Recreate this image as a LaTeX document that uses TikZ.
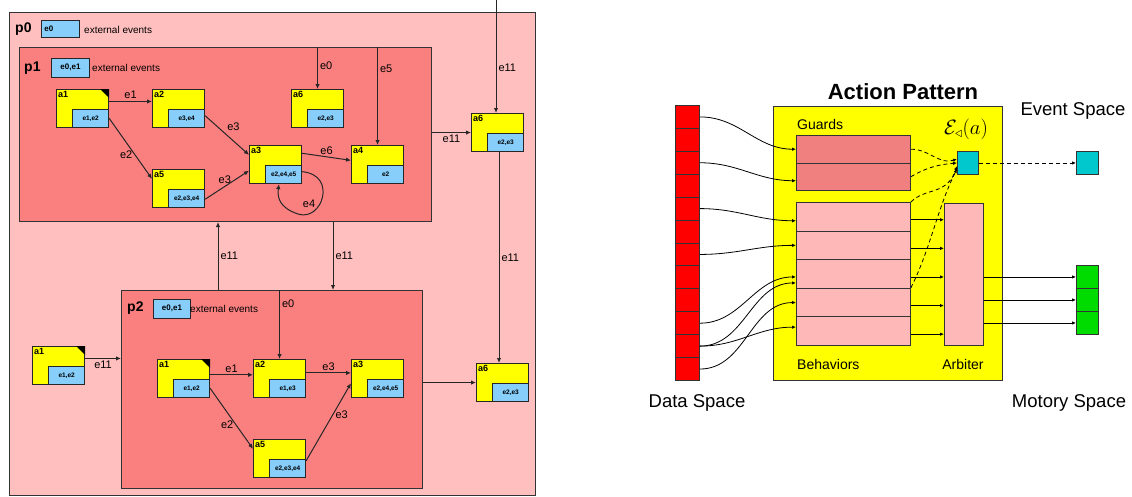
\documentclass[tikz,border=0pt]{standalone}
\usepackage{fontspec}
\setmainfont{Liberation Sans}
\usetikzlibrary{arrows.meta,positioning}

\definecolor{pzero}{RGB}{255,191,191}
\definecolor{pone}{RGB}{250,128,128}
\definecolor{actyellow}{RGB}{255,255,0}
\definecolor{evblue}{RGB}{135,206,250}
\definecolor{behpink}{RGB}{255,184,184}
\definecolor{guardred}{RGB}{240,128,128}
\definecolor{evcyan}{RGB}{0,200,205}
\definecolor{motgreen}{RGB}{0,220,0}
\definecolor{datared}{RGB}{255,0,0}

\tikzset{
  procbox/.style={draw=black!80, line width=1pt, anchor=north west, inner sep=0pt},
  actbox/.style={draw=black!85, line width=1.1pt, fill=actyellow, minimum width=52pt,
    minimum height=38pt, inner sep=0pt, anchor=north west},
  evbox/.style={draw=black!85, line width=0.9pt, fill=evblue, minimum width=36pt,
    minimum height=18pt, inner sep=0pt, font=\bfseries\fontsize{6.5}{7}\selectfont},
  actname/.style={font=\bfseries\fontsize{9}{10}\selectfont, inner sep=2pt},
  pname/.style={font=\bfseries\fontsize{14}{15}\selectfont, anchor=west, inner sep=0pt},
  extlab/.style={font=\fontsize{10}{11}\selectfont, anchor=west, inner sep=0pt},
  lab/.style={font=\fontsize{11}{12}\selectfont, inner sep=2pt},
  ev/.style={-{Latex[length=5pt,width=4.5pt]}, line width=1pt, draw=black!85},
  wire/.style={-{Latex[length=4pt,width=3.5pt]}, line width=0.8pt},
  dashwire/.style={wire, dashed, dash pattern=on 4pt off 3pt},
  bigtext/.style={font=\fontsize{18.5}{20}\selectfont, inner sep=0pt},
  midtext/.style={font=\fontsize{14}{15}\selectfont, inner sep=0pt},
  cell/.style={draw=black!80, line width=0.9pt, anchor=north west, inner sep=0pt}
}

% action node: name, top-left corner, action name, events
\newcommand{\actnode}[4]{%
  \node[actbox] (#1) at (#2) {};
  \node[evbox, anchor=south east] (#1e) at (#1.south east) {#4};
  \node[actname, anchor=north west] at (#1.north west) {#3};
}
\newcommand{\startmark}[1]{\fill (#1.north east) -- ++(-9,0) -- ++(9,9) -- cycle;}

\begin{document}
\begin{tikzpicture}[x=1pt, y=-1pt]
    \useasboundingbox (0,0) rectangle (1132,496);

    % processes
    \node[procbox, fill=pzero, minimum width=526pt, minimum height=483pt] (p0) at (9,12) {};
    \node[pname] at (15,29) {p0};
    \node[evbox, anchor=west, minimum width=38pt, minimum height=17pt, text width=32pt,
      font=\bfseries\fontsize{8}{9}\selectfont] (p0ev) at (41,29) {e0};
    \node[extlab] at (84,30) {external events};

    \node[procbox, fill=pone, minimum width=412pt, minimum height=174pt] (p1) at (19,47) {};
    \node[pname] at (24,68) {p1};
    \node[evbox, anchor=west, minimum width=38pt, minimum height=19pt,
      font=\bfseries\fontsize{8}{9}\selectfont] (p1ev) at (51,67.5) {e0,e1};
    \node[extlab] at (92,68) {external events};

    \node[procbox, fill=pone, minimum width=301pt, minimum height=198pt] (p2) at (121,290) {};
    \node[pname] at (127,308) {p2};
    \node[evbox, anchor=west, minimum width=37pt, minimum height=19pt,
      font=\bfseries\fontsize{8}{9}\selectfont] (p2ev) at (153,308.5) {e0,e1};
    \node[extlab] at (190,309) {external events};

    % actions in p1
    \actnode{a1p}{56,89}{a1}{e1,e2}
    \startmark{a1p}
    \actnode{a2p}{152,89}{a2}{e3,e4}
    \actnode{a6p}{291,89}{a6}{e2,e3}
    \actnode{a3p}{249,145}{a3}{e2,e4,e5}
    \actnode{a4p}{351,145}{a4}{e2}
    \actnode{a5p}{152,169}{a5}{e2,e3,e4}

    % actions in p2
    \actnode{a1q}{157,359}{a1}{e1,e2}
    \startmark{a1q}
    \actnode{a2q}{253,359}{a2}{e1,e3}
    \actnode{a3q}{351,359}{a3}{e2,e4,e5}
    \actnode{a5q}{253,439}{a5}{e2,e3,e4}

    % actions in p0
    \actnode{a1o}{32,346}{a1}{e1,e2}
    \startmark{a1o}
    \actnode{a6o}{471,113}{a6}{e2,e3}
    \actnode{a6r}{476,363}{a6}{e2,e3}

    % events in p1
    \draw[ev] (a1p.15) -- node[lab, above] {e1} (a2p.165);
    \draw[ev] (a1p.-20) -- node[lab, left, pos=0.6] {e2} (a5p.160);
    \draw[ev] (a2p.-15) -- node[lab, above right, pos=0.45] {e3} (a3p.160);
    \draw[ev] (a5p.-22) -- node[lab, above, pos=0.45] {e3} (a3p.-167);
    \draw[ev] (a3p.23) -- node[lab, above] {e6} (a4p.171);
    \draw[ev] (a3p.-15) .. controls (338,175) and (322,222) .. (298,214)
      .. controls (280,208) and (277,198) .. (a3p.-80);
    \node[lab] at (309,204) {e4};
    \draw[ev] (a6p.north |- p1.north) -- node[lab, right, pos=0.45] {e0} (a6p.north);
    \draw[ev] (a4p.north |- p1.north) -- node[lab, right, pos=0.22] {e5} (a4p.north);

    % events in p2
    \draw[ev] (a1q.8) -- node[lab, above] {e1} (a2q.172);
    \draw[ev] (a1q.-20) -- node[lab, left, pos=0.6] {e2} (a5q.160);
    \draw[ev] (a2q.12) -- node[lab, above] {e3} (a3q.168);
    \draw[ev] (a5q.-5) -- node[lab, right, pos=0.6] {e3} (a3q.-170);
    \draw[ev] (a2q.north |- p2.north) -- node[lab, right, pos=0.2] {e0} (a2q.north);

    % events in p0
    \coordinate (topin) at (496,0);
    \draw[ev] (topin) -- node[lab, right, pos=0.6] {e11} (a6o.north -| topin);
    \draw[ev] (p1.east |- a6o.west) -- node[lab, below] {e11} (a6o.west);
    \draw[ev] (a6o.south -| 499,0) -- node[lab, right] {e11} (a6r.north -| 499,0);
    \draw[ev] (p2.north -| 218,0) -- node[lab, right] {e11} (p1.south -| 218,0);
    \draw[ev] (p1.south -| 333,0) -- node[lab, right] {e11} (p2.north -| 333,0);
    \draw[ev] (a1o.15) -- node[lab, below] {e11} (p2.west |- a1o.15);
    \draw[ev] (p2.east |- a6r.west) -- (a6r.west);

    % action pattern
    \node[font=\bfseries\fontsize{22}{24}\selectfont, inner sep=0pt] (title) at (903,92) {Action Pattern};
    \node[cell, fill=actyellow, line width=1pt, minimum width=229pt, minimum height=274pt] (ap) at (773,106) {};
    \node[midtext, anchor=west] (guards) at (797,124) {Guards};
    \node[cell, fill=guardred, minimum width=114pt, minimum height=27.5pt] (g1) at (796,135) {};
    \node[cell, fill=guardred, minimum width=114pt, minimum height=27.5pt] (g2) at (796,162.5) {};
    \foreach \i in {1,...,5}
      \node[cell, fill=behpink, minimum width=114pt, minimum height=28.6pt] (b\i) at (796,{202+28.6*(\i-1)}) {};
    \node[cell, fill=behpink, minimum width=39pt, minimum height=142pt] (arb) at (944,203) {};
    \node[midtext, anchor=west] at (797,364) {Behaviors};
    \node[midtext] at (963,364) {Arbiter};
    \node[font=\fontsize{20}{22}\selectfont, inner sep=0pt] at (966,129) {$\mathcal{E}_{\triangleleft}(a)$};
    \node[cell, fill=evcyan, minimum width=21pt, minimum height=23pt] (ev1) at (957,151) {};
    \node[cell, fill=evcyan, minimum width=22pt, minimum height=23pt] (ev2) at (1076,151) {};
    \node[bigtext] at (1073,111) {Event Space};
    \foreach \i in {1,2,3}
      \node[cell, fill=motgreen, minimum width=22pt, minimum height=23pt] (m\i) at (1076,{265+23*(\i-1)}) {};
    \node[bigtext] at (1069,403) {Motory Space};
    \foreach \i in {0,...,11}
      \node[cell, fill=datared, minimum width=24pt, minimum height=22.92pt] (d\i) at (675,{105+22.92*\i}) {};
    \node[bigtext] at (697,403) {Data Space};

    % data wires
    \draw[wire] (d0.east) to[out=0, in=180] (g1.west);
    \draw[wire] (d2.east) to[out=0, in=180] ([yshift=-4pt]g2.west);
    \draw[wire] (d4.east) to[out=0, in=180] ([yshift=-4pt]b1.west);
    \draw[wire] (d6.east) to[out=0, in=180] (b2.west);
    \draw[wire] (d9.east) to[out=0, in=180] ([yshift=-3pt]b3.west);
    \draw[wire] (d10.east) to[out=0, in=180] ([yshift=-9pt]b3.west);
    \draw[wire] (d10.east) to[out=0, in=180] ([yshift=4pt]b5.west);
    \draw[wire] (d11.east) to[out=0, in=180] (b4.west);

    % behaviors to arbiter to motors
    \foreach \i in {1,...,5}
      \draw[wire] ([yshift=-3pt]b\i.east) -- ([yshift=-3pt]b\i.east -| arb.west);
    \foreach \i in {1,2,3}
      \draw[wire] (m\i.west -| arb.east) -- (m\i.west);

    % events
    \draw[dashwire] (ev1.east) -- (ev2.west);
    \draw[dashwire] (g1.east) to[out=0, in=200] ([yshift=4pt]ev1.west);
    \draw[dashwire] (g2.east) to[out=30, in=185] (ev1.west);
    \draw[dashwire] (b1.north east) .. controls +(15,-15) and +(-10,30) .. ([yshift=-3pt]ev1.west);
    \draw[dashwire] (b4.north east) .. controls +(20,-40) and +(-20,40) .. ([yshift=-6pt]ev1.west);
\end{tikzpicture}
\end{document}
